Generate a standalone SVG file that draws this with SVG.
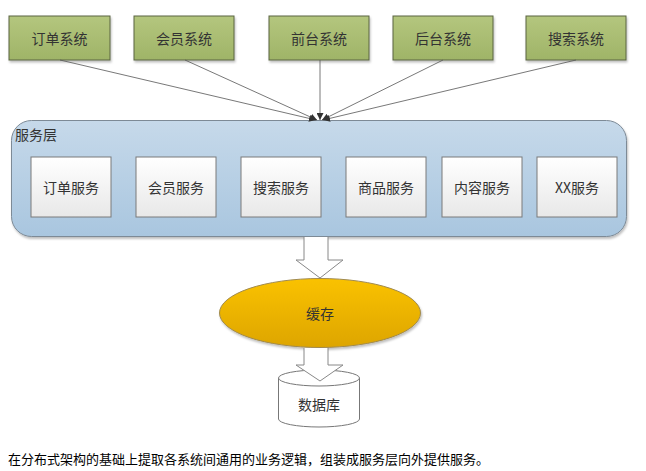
<svg xmlns="http://www.w3.org/2000/svg" width="646" height="471" viewBox="0 0 646 471">
<style>
text{font-family:"Noto Sans CJK SC","Liberation Sans",sans-serif;fill:#333}
.sys{fill:url(#gGreen);stroke:#5a6540;stroke-width:1}
.svc{fill:url(#gWhite);stroke:#7a7a7a;stroke-width:1}
.lbl{font-size:14px;text-anchor:middle;dominant-baseline:central}
.conn{stroke:#555;stroke-width:0.8;fill:none;marker-end:url(#ah)}
.bigarrow{fill:#fff;stroke:#888;stroke-width:1}
</style>
<defs>
<linearGradient id="gGreen" x1="0" y1="0" x2="0" y2="1"><stop offset="0" stop-color="#b4c67e"/><stop offset="1" stop-color="#9fb468"/></linearGradient>
<linearGradient id="gWhite" x1="0" y1="0" x2="0" y2="1"><stop offset="0" stop-color="#ffffff"/><stop offset="1" stop-color="#e8e8e8"/></linearGradient>
<linearGradient id="gBlue" x1="0" y1="0" x2="0" y2="1"><stop offset="0" stop-color="#c6d9ea"/><stop offset="1" stop-color="#a9c6df"/></linearGradient>
<linearGradient id="gGold" x1="0" y1="0" x2="0" y2="1"><stop offset="0" stop-color="#fac200"/><stop offset="1" stop-color="#dda500"/></linearGradient>
<filter id="sh" x="-10%" y="-10%" width="130%" height="140%"><feDropShadow dx="1" dy="2" stdDeviation="1.2" flood-color="#000" flood-opacity="0.25"/></filter>
<marker id="ah" viewBox="0 0 10 10" refX="10" refY="5" markerWidth="7" markerHeight="7" orient="auto" markerUnits="userSpaceOnUse"><path d="M0,0L10,5L0,10z" fill="#333"/></marker>
</defs>

<g id="sys-order"><rect class="sys" x="9" y="16" width="101" height="44" filter="url(#sh)"/><text class="lbl" x="59.5" y="38">订单系统</text></g>
<g id="sys-member"><rect class="sys" x="134" y="16" width="100" height="44" filter="url(#sh)"/><text class="lbl" x="184" y="38">会员系统</text></g>
<g id="sys-front"><rect class="sys" x="269" y="16" width="100" height="44" filter="url(#sh)"/><text class="lbl" x="319" y="38">前台系统</text></g>
<g id="sys-back"><rect class="sys" x="393" y="16" width="100" height="44" filter="url(#sh)"/><text class="lbl" x="443" y="38">后台系统</text></g>
<g id="sys-search"><rect class="sys" x="526" y="16" width="100" height="44" filter="url(#sh)"/><text class="lbl" x="576" y="38">搜索系统</text></g>

<g id="service-layer">
<rect x="11.5" y="120.5" width="615" height="116" rx="20" ry="20" fill="url(#gBlue)" stroke="#7d8a96" stroke-width="1" filter="url(#sh)"/>
<text x="15" y="140" font-size="14">服务层</text>
</g>

<g id="svc-order"><rect class="svc" x="31" y="157" width="80" height="60"/><text class="lbl" x="71" y="187">订单服务</text></g>
<g id="svc-member"><rect class="svc" x="136" y="157" width="80" height="60"/><text class="lbl" x="176" y="187">会员服务</text></g>
<g id="svc-search"><rect class="svc" x="241" y="157" width="80" height="60"/><text class="lbl" x="281" y="187">搜索服务</text></g>
<g id="svc-goods"><rect class="svc" x="346" y="157" width="80" height="60"/><text class="lbl" x="386" y="187">商品服务</text></g>
<g id="svc-content"><rect class="svc" x="442" y="157" width="80" height="60"/><text class="lbl" x="482" y="187">内容服务</text></g>
<g id="svc-xx"><rect class="svc" x="537" y="157" width="80" height="60"/><text class="lbl" x="577" y="187">XX服务</text></g>

<g id="cache">
<ellipse cx="320" cy="313" rx="100.5" ry="34.5" fill="url(#gGold)" stroke="#a08a50" stroke-width="1" filter="url(#sh)"/>
<text class="lbl" x="320" y="313">缓存</text>
</g>

<g id="database">
<path d="M278.5,378V419A40.5,8 0 0 0 359.5,419V378" fill="#fff" stroke="#777" stroke-width="1"/>
<ellipse cx="319" cy="378" rx="40.5" ry="8" fill="#fff" stroke="#777" stroke-width="1"/>
<text class="lbl" x="319" y="404">数据库</text>
</g>

<g id="connectors">
<line class="conn" x1="60" y1="60" x2="316" y2="120"/>
<line class="conn" x1="185" y1="60" x2="317" y2="120"/>
<line class="conn" x1="320" y1="60" x2="320" y2="120"/>
<line class="conn" x1="443" y1="60" x2="322" y2="120"/>
<line class="conn" x1="576" y1="60" x2="323" y2="120"/>
<path id="arrow1" class="bigarrow" d="M304,237V260H296L320,278L343,260H328V237"/>
<path id="arrow2" class="bigarrow" d="M304,348V365H296L320,381L343,365H328V348"/>
</g>

<text x="8" y="464" font-size="13" style="fill:#000">在分布式架构的基础上提取各系统间通用的业务逻辑，组装成服务层向外提供服务。</text>
</svg>
